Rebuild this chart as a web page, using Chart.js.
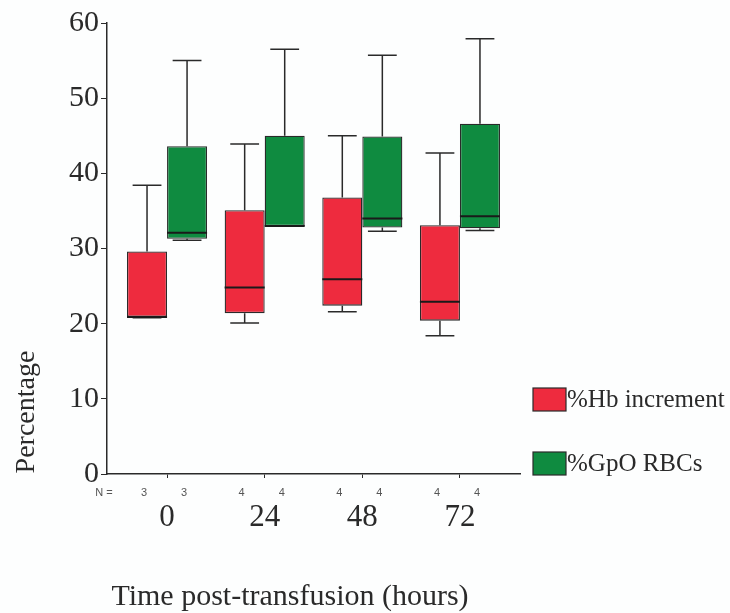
<!DOCTYPE html>
<html>
<head>
<meta charset="utf-8">
<script src="https://cdn.jsdelivr.net/npm/chart.js@4"></script>
<style>
  html, body { margin: 0; padding: 0; background: #fdfefe; }
  #wrap { width: 730px; height: 613px; }
</style>
</head>
<body>
<div id="wrap"><canvas id="boxChart" width="730" height="613"></canvas></div>
<script>
const timeLabels = ["0", "24", "48", "72"];

// %Hb increment
const hbMin = [20.8, 20.1, 21.6, 18.4];
const hbQ1 = [20.9, 21.4, 22.4, 20.4];
const hbMedian = [20.9, 24.8, 25.9, 22.9];
const hbQ3 = [29.6, 35.1, 36.8, 33.1];
const hbMax = [38.4, 43.9, 45.0, 42.7];
const hbN = [3, 4, 4, 4];

// %GpO RBCs
const gpoMin = [31.1, 33.0, 32.3, 32.4];
const gpoQ1 = [31.3, 33.0, 32.8, 32.7];
const gpoMedian = [32.1, 33.0, 34.0, 34.3];
const gpoQ3 = [43.6, 45.0, 44.9, 46.6];
const gpoMax = [55.0, 56.5, 55.7, 57.9];
const gpoN = [3, 4, 4, 4];

const yTicks = [0, 10, 20, 30, 40, 50, 60];

const SERIF = "'Liberation Serif', 'Times New Roman', serif";
const SMALL = "11px 'Liberation Sans', Arial, sans-serif";
const INK = "#2a2a2a";

function boxData(q1, q3) {
  return q1.map((v, i) => ({ x: i, y: [v, q3[i]] }));
}

// whiskers, medians, N counts, axis titles and legend
const boxExtras = {
  id: "boxExtras",
  afterDatasetsDraw(chart) {
    const ctx = chart.ctx;
    const y = chart.scales.y;
    const area = chart.chartArea;
    ctx.save();
    chart.data.datasets.forEach((ds, di) => {
      const meta = chart.getDatasetMeta(di);
      meta.data.forEach((bar, i) => {
        const st = ds.stats;
        const half = bar.width / 2;
        const cap = bar.width * 0.36;
        const yMax = y.getPixelForValue(st.max[i]);
        const yMin = y.getPixelForValue(st.min[i]);
        const yQ3 = y.getPixelForValue(ds.data[i].y[1]);
        const yQ1 = y.getPixelForValue(ds.data[i].y[0]);
        const yMed = y.getPixelForValue(st.median[i]);
        ctx.strokeStyle = INK;
        ctx.lineWidth = 1.5;
        ctx.beginPath();
        ctx.moveTo(bar.x, yQ3); ctx.lineTo(bar.x, yMax);
        ctx.moveTo(bar.x - cap, yMax); ctx.lineTo(bar.x + cap, yMax);
        ctx.moveTo(bar.x, yQ1); ctx.lineTo(bar.x, yMin);
        ctx.moveTo(bar.x - cap, yMin); ctx.lineTo(bar.x + cap, yMin);
        ctx.stroke();
        ctx.lineWidth = 2;
        ctx.strokeStyle = "#1a1a1a";
        ctx.beginPath();
        ctx.moveTo(bar.x - half, yMed); ctx.lineTo(bar.x + half, yMed);
        ctx.stroke();

        // N row
        ctx.fillStyle = "#555";
        ctx.font = SMALL;
        ctx.textAlign = "center";
        ctx.textBaseline = "middle";
        ctx.fillText(String(st.n[i]), bar.x - 3, area.bottom + 19);
      });
    });
    ctx.fillStyle = "#555";
    ctx.font = SMALL;
    ctx.textAlign = "center";
    ctx.textBaseline = "middle";
    ctx.fillText("N =", area.left - 3, area.bottom + 19);

    // axis titles
    ctx.fillStyle = INK;
    ctx.font = "30px " + SERIF;
    ctx.textAlign = "center";
    ctx.textBaseline = "alphabetic";
    ctx.fillText("Time post-transfusion (hours)", area.left + 183, 605);
    ctx.font = "28px " + SERIF;
    ctx.save();
    ctx.translate(34, 412);
    ctx.rotate(-Math.PI / 2);
    ctx.fillText("Percentage", 0, 0);
    ctx.restore();

    // legend
    chart.data.datasets.forEach((ds, di) => {
      const top = 388 + di * 64;
      ctx.fillStyle = ds.backgroundColor;
      ctx.fillRect(533, top, 33, 23);
      ctx.strokeStyle = INK;
      ctx.lineWidth = 1.2;
      ctx.strokeRect(533, top, 33, 23);
      ctx.fillStyle = INK;
      ctx.font = "25px " + SERIF;
      ctx.textAlign = "left";
      ctx.textBaseline = "middle";
      ctx.fillText(ds.label, 567, top + 12);
    });
    ctx.restore();
  }
};

new Chart(document.getElementById("boxChart"), {
  type: "bar",
  data: {
    datasets: [
      {
        label: "%Hb increment",
        data: boxData(hbQ1, hbQ3),
        stats: { min: hbMin, median: hbMedian, max: hbMax, n: hbN },
        backgroundColor: "#ee2b3e",
        borderColor: INK,
        borderWidth: 1.3,
        borderSkipped: false,
        categoryPercentage: 0.82,
        barPercentage: 1.0
      },
      {
        label: "%GpO RBCs",
        data: boxData(gpoQ1, gpoQ3),
        stats: { min: gpoMin, median: gpoMedian, max: gpoMax, n: gpoN },
        backgroundColor: "#0f8b40",
        borderColor: INK,
        borderWidth: 1.3,
        borderSkipped: false,
        categoryPercentage: 0.82,
        barPercentage: 1.0
      }
    ]
  },
  options: {
    responsive: false,
    animation: false,
    layout: { padding: { top: 23, right: 210, left: 0, bottom: 0 } },
    plugins: {
      legend: { display: false },
      tooltip: { enabled: false }
    },
    scales: {
      x: {
        type: "linear",
        offset: false,
        min: -0.615,
        max: 3.615,
        afterBuildTicks: s => { s.ticks = timeLabels.map((_, i) => ({ value: i })); },
        afterFit: s => { s.height = 139; },
        ticks: {
          callback: v => timeLabels[v],
          font: { family: SERIF, size: 31 },
          color: INK,
          padding: 21,
          maxRotation: 0
        },
        grid: { offset: false, drawOnChartArea: false, drawTicks: true, tickLength: 4, color: INK },
        border: { display: true, color: INK, width: 1.5 }
      },
      y: {
        min: 0,
        max: 60,
        afterBuildTicks: s => { s.ticks = yTicks.map(v => ({ value: v })); },
        afterFit: s => { s.width = 107; },
        ticks: {
          font: { family: SERIF, size: 30 },
          color: INK,
          padding: 2
        },
        grid: { drawOnChartArea: false, drawTicks: true, tickLength: 6, color: INK },
        border: { display: true, color: INK, width: 1.5 }
      }
    }
  },
  plugins: [boxExtras]
});
</script>
</body>
</html>
